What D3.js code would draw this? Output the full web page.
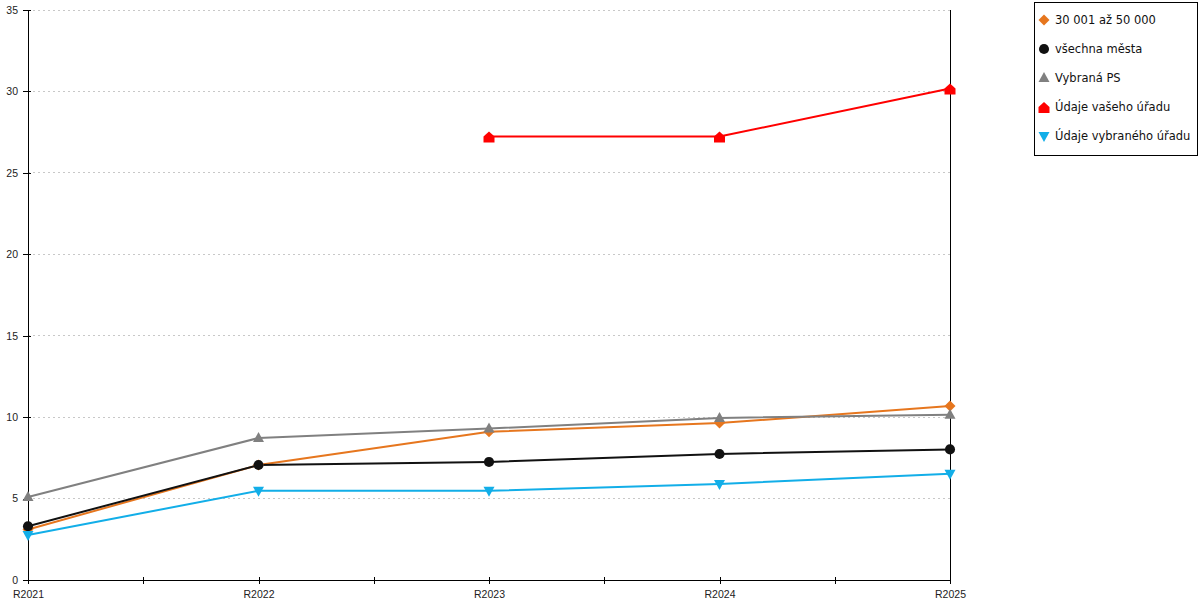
<!DOCTYPE html>
<html>
<head>
<meta charset="utf-8">
<script src="https://cdn.jsdelivr.net/npm/d3@7"></script>
<style>
  body { margin: 0; background: #fff; }
  svg { display: block; font-family: "DejaVu Sans", sans-serif; }
</style>
</head>
<body>
<svg id="chart" width="1200" height="600"></svg>
<script>
// data
var years = ["R2021", "R2022", "R2023", "R2024", "R2025"];
var yTicks = [0, 5, 10, 15, 20, 25, 30, 35];

var velikost = [3.1, 7.06, 9.1, 9.64, 10.68];
var vsechnaMesta = [3.3, 7.06, 7.25, 7.74, 8.02];
var vybranaPS = [5.1, 8.72, 9.3, 9.95, 10.15];
var vasUrad = [null, null, 27.23, 27.23, 30.18];
var vybranyUrad = [2.76, 5.48, 5.48, 5.9, 6.52];

var seriesNames = ["30 001 až 50 000", "všechna města", "Vybraná PS", "Údaje vašeho úřadu", "Údaje vybraného úřadu"];
var seriesColors = ["#e6761e", "#111111", "#808080", "#ff0000", "#12aee8"];
var seriesShapes = ["diamond", "circle", "up", "house", "down"];

var series = [velikost, vsechnaMesta, vybranaPS, vasUrad, vybranyUrad].map(function (v, i) {
  return { name: seriesNames[i], color: seriesColors[i], shape: seriesShapes[i], values: v };
});

var svg = d3.select("#chart");
var plotLeft = 28, plotRight = 950, plotTop = 10, plotBottom = 580;

var x = d3.scaleLinear().domain([0, years.length - 1]).range([plotLeft, plotRight]);
var y = d3.scaleLinear().domain([0, 35]).range([plotBottom, plotTop]);

function markerPath(shape) {
  switch (shape) {
    case "diamond": return "M0,-5.5L5.5,0L0,5.5L-5.5,0Z";
    case "circle": return d3.symbol(d3.symbolCircle, 80)();
    case "up": return "M0,-6L5.5,4L-5.5,4Z";
    case "down": return "M0,6L5.5,-4L-5.5,-4Z";
    case "house": return "M-5.5,6L5.5,6L5.5,0L0,-5L-5.5,0Z";
  }
}

// gridlines
svg.append("g")
  .selectAll("line")
  .data(yTicks.filter(function (t) { return t > 0; }))
  .join("line")
  .attr("x1", plotLeft).attr("x2", plotRight)
  .attr("y1", function (d) { return y(d); })
  .attr("y2", function (d) { return y(d); })
  .attr("stroke", "#c8c8c8")
  .attr("stroke-dasharray", "2,3")
  .attr("shape-rendering", "crispEdges");

// right border line
svg.append("line")
  .attr("x1", plotRight).attr("x2", plotRight)
  .attr("y1", y(35)).attr("y2", y(0))
  .attr("stroke", "#000")
  .attr("shape-rendering", "crispEdges");

// y axis
var yAxis = svg.append("g")
  .attr("transform", "translate(" + plotLeft + ",0)")
  .call(d3.axisLeft(y).tickValues(yTicks).tickSize(5).tickPadding(5).tickFormat(d3.format("d")));
yAxis.selectAll("line").attr("x1", 3).attr("x2", -5);
yAxis.selectAll("text").style("font-size", "10.5px").attr("fill", "#222");
yAxis.select(".domain").attr("d", "M0," + y(35) + "V" + y(0));
yAxis.selectAll("path, line").attr("shape-rendering", "crispEdges");

// x axis with half-step ticks
var xAxis = svg.append("g")
  .attr("transform", "translate(0," + plotBottom + ")")
  .call(d3.axisBottom(x)
    .tickValues(d3.range(0, years.length - 0.99, 0.5))
    .tickSize(4).tickPadding(7)
    .tickFormat(function (d) { return Number.isInteger(d) ? years[d] : ""; }));
xAxis.selectAll("line").attr("y1", -3).attr("y2", 4);
xAxis.selectAll("text").style("font-size", "10.5px").attr("fill", "#222");
xAxis.select(".domain").attr("d", "M" + plotLeft + ",0H" + plotRight);
xAxis.selectAll("path, line").attr("shape-rendering", "crispEdges");

// lines
var line = d3.line()
  .defined(function (d) { return d != null; })
  .x(function (d, i) { return x(i); })
  .y(function (d) { return y(d); });

var plot = svg.append("g");
series.forEach(function (s) {
  plot.append("path")
    .datum(s.values)
    .attr("fill", "none")
    .attr("stroke", s.color)
    .attr("stroke-width", 2)
    .attr("d", line);
});

series.forEach(function (s) {
  plot.append("g")
    .selectAll("path")
    .data(s.values.map(function (v, i) { return { v: v, i: i }; }).filter(function (d) { return d.v != null; }))
    .join("path")
    .attr("transform", function (d) { return "translate(" + x(d.i) + "," + y(d.v) + ")"; })
    .attr("d", markerPath(s.shape))
    .attr("fill", s.color);
});

// legend
var legend = svg.append("g").attr("transform", "translate(1034,2)");
legend.append("rect")
  .attr("x", 0.5).attr("y", 0.5)
  .attr("width", 163).attr("height", 153)
  .attr("fill", "#fff")
  .attr("stroke", "#000");

var item = legend.selectAll("g.item")
  .data(series)
  .join("g")
  .attr("class", "item")
  .attr("transform", function (d, i) { return "translate(10," + (18 + i * 29) + ")"; });

item.append("path")
  .attr("d", function (d) { return markerPath(d.shape); })
  .attr("fill", function (d) { return d.color; });

item.append("text")
  .attr("x", 11)
  .attr("dy", "0.36em")
  .style("font-size", "11.5px")
  .attr("fill", "#111")
  .text(function (d) { return d.name; });
</script>
</body>
</html>
